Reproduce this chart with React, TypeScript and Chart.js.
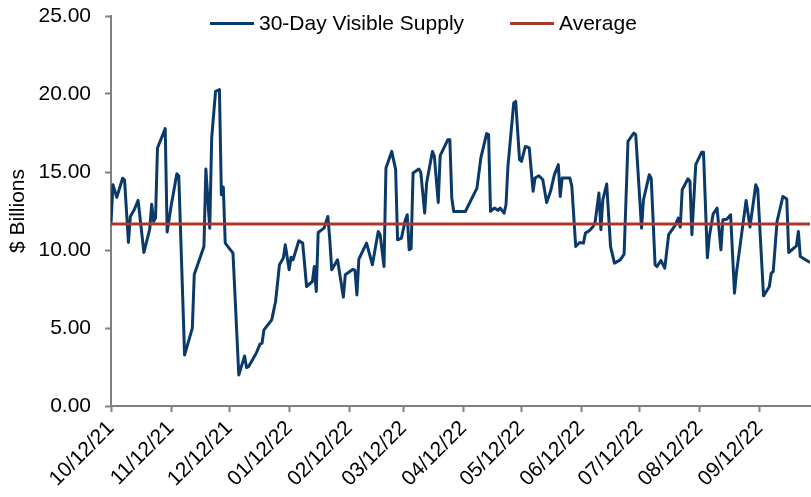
import React, { useEffect, useRef } from "react";
import { Chart, registerables } from "chart.js";

Chart.register(...registerables);

const tickDays = [0, 31, 61, 92, 123, 151, 182, 212, 243, 273, 304, 335];
const tickLabels = [
  "10/12/21", "11/12/21", "12/12/21", "01/12/22", "02/12/22", "03/12/22",
  "04/12/22", "05/12/22", "06/12/22", "07/12/22", "08/12/22", "09/12/22",
];
const lastDay = 361;

// days since 10/12/21
const supplyDays = [
  0, 1, 3, 6, 7, 9, 10, 12, 14, 17,
  20, 21, 22, 23, 24, 28, 29, 31, 34, 35,
  38, 42, 43, 48, 49, 51, 52, 54, 56, 57,
  58, 59, 63, 66, 69, 70, 71, 75, 77, 78,
  79, 83, 85, 87, 89, 90, 92, 93, 94, 97,
  99, 101, 104, 105, 106, 107, 110, 112, 113, 114,
  117, 120, 121, 125, 126, 127, 128, 132, 135, 138,
  139, 141, 142, 145, 147, 148, 150, 152, 153, 154,
  155, 156, 159, 160, 162, 163, 166, 167, 169, 170,
  174, 175, 176, 177, 183, 189, 191, 194, 195, 196,
  198, 200, 201, 203, 204, 205, 208, 209, 211, 212,
  214, 216, 218, 219, 221, 223, 225, 227, 229, 231,
  232, 233, 237, 238, 240, 242, 244, 245, 247, 249,
  250, 252, 253, 254, 256, 258, 260, 263, 265, 267,
  270, 271, 274, 275, 278, 279, 281, 282, 284, 286,
  288, 291, 293, 294, 295, 298, 299, 300, 302, 305,
  306, 308, 309, 311, 313, 315, 316, 318, 320, 322,
  323, 328, 330, 333, 334, 337, 339, 340, 341, 342,
  344, 347, 349, 350, 354, 355, 356, 361,
];

const supplyValues = [
  11.68, 14.18, 13.37, 14.6, 14.5, 10.48, 12.15, 12.58, 13.18, 9.84,
  11.34, 12.94, 11.83, 12.05, 16.54, 17.78, 11.15, 12.79, 14.89, 14.76,
  3.27, 4.99, 8.43, 10.22, 15.19, 11.4, 17.18, 20.17, 20.28, 13.54,
  14.03, 10.44, 9.8, 1.99, 3.21, 2.46, 2.52, 3.38, 3.98, 4.02,
  4.88, 5.52, 6.7, 9.05, 9.48, 10.33, 8.73, 9.54, 9.37, 10.59,
  10.44, 7.66, 7.98, 8.94, 7.34, 11.12, 11.4, 12.15, 10.65, 8.73,
  9.37, 6.98, 8.41, 8.77, 8.7, 7.12, 9.42, 10.44, 9.05, 11.19,
  10.98, 8.94, 15.26, 16.32, 15.15, 10.65, 10.76, 11.94, 12.26, 10.01,
  10.1, 14.93, 15.19, 14.97, 12.37, 14.29, 16.32, 16.0, 13.05, 16.05,
  17.07, 17.07, 13.33, 12.47, 12.47, 13.97, 15.9, 17.46, 17.4, 12.47,
  12.69, 12.54, 12.69, 12.36, 12.9, 15.36, 19.43, 19.53, 15.79, 15.68,
  16.64, 16.54, 13.76, 14.61, 14.76, 14.5, 13.05, 13.76, 14.83, 15.47,
  13.43, 14.61, 14.61, 14.08, 10.22, 10.48, 10.44, 11.08, 11.23, 11.51,
  11.77, 13.65, 11.3, 13.22, 14.23, 10.22, 9.16, 9.37, 9.74, 16.96,
  17.5, 17.39, 11.4, 13.22, 14.83, 14.6, 9.05, 8.94, 9.33, 8.84,
  10.98, 11.51, 12.05, 11.47, 13.86, 14.57, 14.4, 10.98, 15.47, 16.26,
  16.26, 9.5, 10.87, 12.32, 12.69, 10.01, 11.94, 11.97, 12.26, 7.23,
  8.52, 13.18, 11.47, 14.18, 13.9, 7.06, 7.45, 7.66, 8.52, 8.62,
  11.83, 13.43, 13.27, 9.84, 10.27, 11.19, 9.58, 9.2,
];

const averageValue = 11.66;

const seriesNames = ["30-Day Visible Supply", "Average"];
const seriesColors = ["#0B3A6A", "#A8382B"];

const FONT = '"Liberation Sans", Arial, sans-serif';

const legendPlugin = {
  id: "topLegend",
  afterDraw(chart: any) {
    const ctx = chart.ctx;
    ctx.save();
    ctx.font = `21px ${FONT}`;
    ctx.textBaseline = "alphabetic";
    ctx.textAlign = "left";
    let x = 210;
    chart.data.datasets.forEach((ds: any) => {
      ctx.strokeStyle = ds.borderColor;
      ctx.lineWidth = 3;
      ctx.beginPath();
      ctx.moveTo(x, 23.5);
      ctx.lineTo(x + 44, 23.5);
      ctx.stroke();
      ctx.fillStyle = "#000";
      ctx.fillText(ds.label, x + 49, 29.5);
      x += 49 + ctx.measureText(ds.label).width + 46;
    });
    ctx.restore();
  },
};

export default function App() {
  const canvasRef = useRef<HTMLCanvasElement | null>(null);

  useEffect(() => {
    if (!canvasRef.current) return;
    Chart.defaults.font.family = FONT;
    const chart = new Chart(canvasRef.current, {
      type: "line",
      data: {
        datasets: [
          {
            label: seriesNames[0],
            data: supplyDays.map((d, i) => ({ x: d, y: supplyValues[i] })),
            borderColor: seriesColors[0],
            backgroundColor: seriesColors[0],
            borderWidth: 3,
            pointRadius: 0,
            tension: 0,
            borderJoinStyle: "round",
            order: 1,
          },
          {
            label: seriesNames[1],
            data: [
              { x: 0, y: averageValue },
              { x: lastDay, y: averageValue },
            ],
            borderColor: seriesColors[1],
            backgroundColor: seriesColors[1],
            borderWidth: 3,
            pointRadius: 0,
            order: 0,
          },
        ],
      },
      options: {
        animation: false,
        responsive: true,
        maintainAspectRatio: false,
        layout: { padding: { top: 16, right: 1, left: 0, bottom: 0 } },
        plugins: {
          legend: { display: false },
          tooltip: { enabled: false },
        },
        scales: {
          x: {
            type: "linear",
            min: 0,
            max: lastDay,
            afterBuildTicks: (s: any) => {
              s.ticks = tickDays.map((v) => ({ value: v }));
            },
            afterFit: (s: any) => {
              s.height = 91;
            },
            ticks: {
              autoSkip: false,
              maxRotation: 45,
              minRotation: 45,
              color: "#000",
              font: { size: 21, family: FONT },
              padding: 4,
              callback: (v: any) => {
                const i = tickDays.indexOf(Number(v));
                return i >= 0 ? tickLabels[i] : "";
              },
            },
            grid: {
              drawOnChartArea: false,
              drawTicks: true,
              tickLength: 6,
              tickColor: "#808080",
              tickWidth: 2,
            },
            border: { color: "#808080", width: 2 },
          },
          y: {
            min: 0,
            max: 25,
            afterFit: (s: any) => {
              s.width = 111;
              s.paddingTop = 0;
              s.paddingBottom = 0;
            },
            ticks: {
              stepSize: 5,
              color: "#000",
              font: { size: 21, family: FONT },
              padding: 14,
              callback: (v: any) => Number(v).toFixed(2),
            },
            grid: {
              drawOnChartArea: false,
              drawTicks: true,
              tickLength: 6,
              tickColor: "#808080",
              tickWidth: 2,
            },
            border: { color: "#808080", width: 2 },
            title: {
              display: true,
              text: "$ Billions",
              color: "#000",
              font: { size: 21, family: FONT },
              padding: { top: 6, bottom: 0 },
            },
          },
        },
      } as any,
      plugins: [legendPlugin],
    });
    return () => chart.destroy();
  }, []);

  return (
    <div style={{ position: "absolute", left: 0, top: 0, width: 811, height: 497 }}>
      <canvas ref={canvasRef} />
    </div>
  );
}
